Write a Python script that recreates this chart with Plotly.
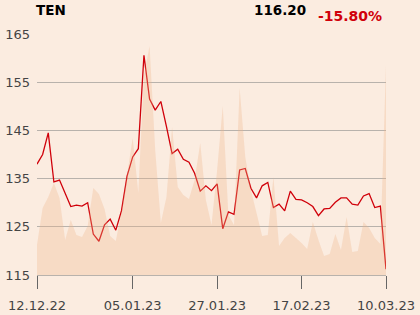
import plotly.graph_objects as go

# x positions are trading-day indices (Dec 12, 2022 .. Mar 10, 2023)
tick_index = [0, 17, 32, 47, 62]
tick_labels = ["12.12.22", "05.01.23", "27.01.23", "17.02.23", "10.03.23"]

price = [138.0, 140.0, 144.5, 134.3, 134.7, 132.0, 129.2, 129.5, 129.3, 130.0,
         123.5, 122.0, 125.4, 126.6, 124.3, 128.3, 135.5, 139.5, 141.2, 160.6,
         151.5, 149.2, 151.0, 145.8, 140.2, 141.1, 139.0, 138.4, 136.1, 132.4,
         133.5, 132.5, 133.9, 124.6, 128.1, 127.6, 136.8, 137.1, 133.0, 131.0,
         133.5, 134.2, 129.0, 129.7, 128.3, 132.4, 130.7, 130.6, 130.0, 129.2,
         127.3, 128.7, 128.8, 130.1, 131.0, 131.0, 129.7, 129.5, 131.4, 131.9,
         129.0, 129.3, 116.2]

volume = [300, 670, 780, 920, 770, 350, 550, 400, 380, 490,
          870, 810, 660, 390, 340, 630, 1000, 1370, 820, 2000,
          2290, 1250, 520, 780, 1480, 880, 800, 760, 950, 1320,
          750, 500, 1050, 1690, 600, 500, 1870, 1180, 850, 630,
          390, 400, 980, 290, 370, 420, 370, 320, 260, 530,
          350, 190, 210, 410, 250, 580, 230, 240, 530, 470,
          370, 310, 2100]

y_ticks = [115, 125, 135, 145, 155, 165]

ticker = "TEN"
last_price = "116.20"
change = "-15.80%"

x = list(range(len(price)))

BG = "#fbece0"
GRID = "#b8b2ac"
FONT = "DejaVu Sans"

fig = go.Figure()
fig.add_trace(go.Scatter(
    x=x, y=volume, yaxis="y2", mode="lines", fill="tozeroy",
    line=dict(width=0, color="rgba(240,180,140,0)"),
    fillcolor="rgba(240,178,135,0.30)", hoverinfo="skip", showlegend=False))
fig.add_trace(go.Scatter(
    x=x, y=price, mode="lines",
    line=dict(color="#d0000a", width=1.3), showlegend=False))

fig.update_layout(
    width=420, height=315,
    margin=dict(l=37, r=34, t=34, b=40),
    paper_bgcolor=BG, plot_bgcolor=BG,
    font=dict(family=FONT, size=13, color="#444444"),
    xaxis=dict(range=[0, len(price) - 1], tickvals=tick_index, ticktext=tick_labels,
               showgrid=False, zeroline=False, showline=True, linecolor=GRID,
               linewidth=1, ticks="outside", ticklen=13, tickcolor="#666666",
               tickwidth=1, tickfont=dict(size=13, color="#444444"), automargin=False,
               ticklabelstandoff=5),
    yaxis=dict(range=[115, 165], tickvals=y_ticks, showgrid=True, gridcolor=GRID,
               gridwidth=1, zeroline=False, showline=False, ticks="",
               tickfont=dict(size=13, color="#444444"), automargin=False,
               ticklabelstandoff=6),
    yaxis2=dict(range=[0, 2410], overlaying="y", visible=False),
    annotations=[
        dict(text="<b>" + ticker + "</b>", xref="paper", yref="paper", x=-0.008, y=1.098,
             xanchor="left", yanchor="middle", showarrow=False,
             font=dict(family=FONT, size=13.5, color="#000000")),
        dict(text="<b>" + last_price + "</b>", xref="paper", yref="paper", x=0.7765, y=1.101,
             xanchor="right", yanchor="middle", showarrow=False,
             font=dict(family=FONT, size=13.5, color="#000000")),
        dict(text="<b>" + change + "</b>", xref="paper", yref="paper", x=0.9935, y=1.073,
             xanchor="right", yanchor="middle", showarrow=False,
             font=dict(family=FONT, size=14, color="#d0000a")),
    ],
)

fig.write_html("out.html")
